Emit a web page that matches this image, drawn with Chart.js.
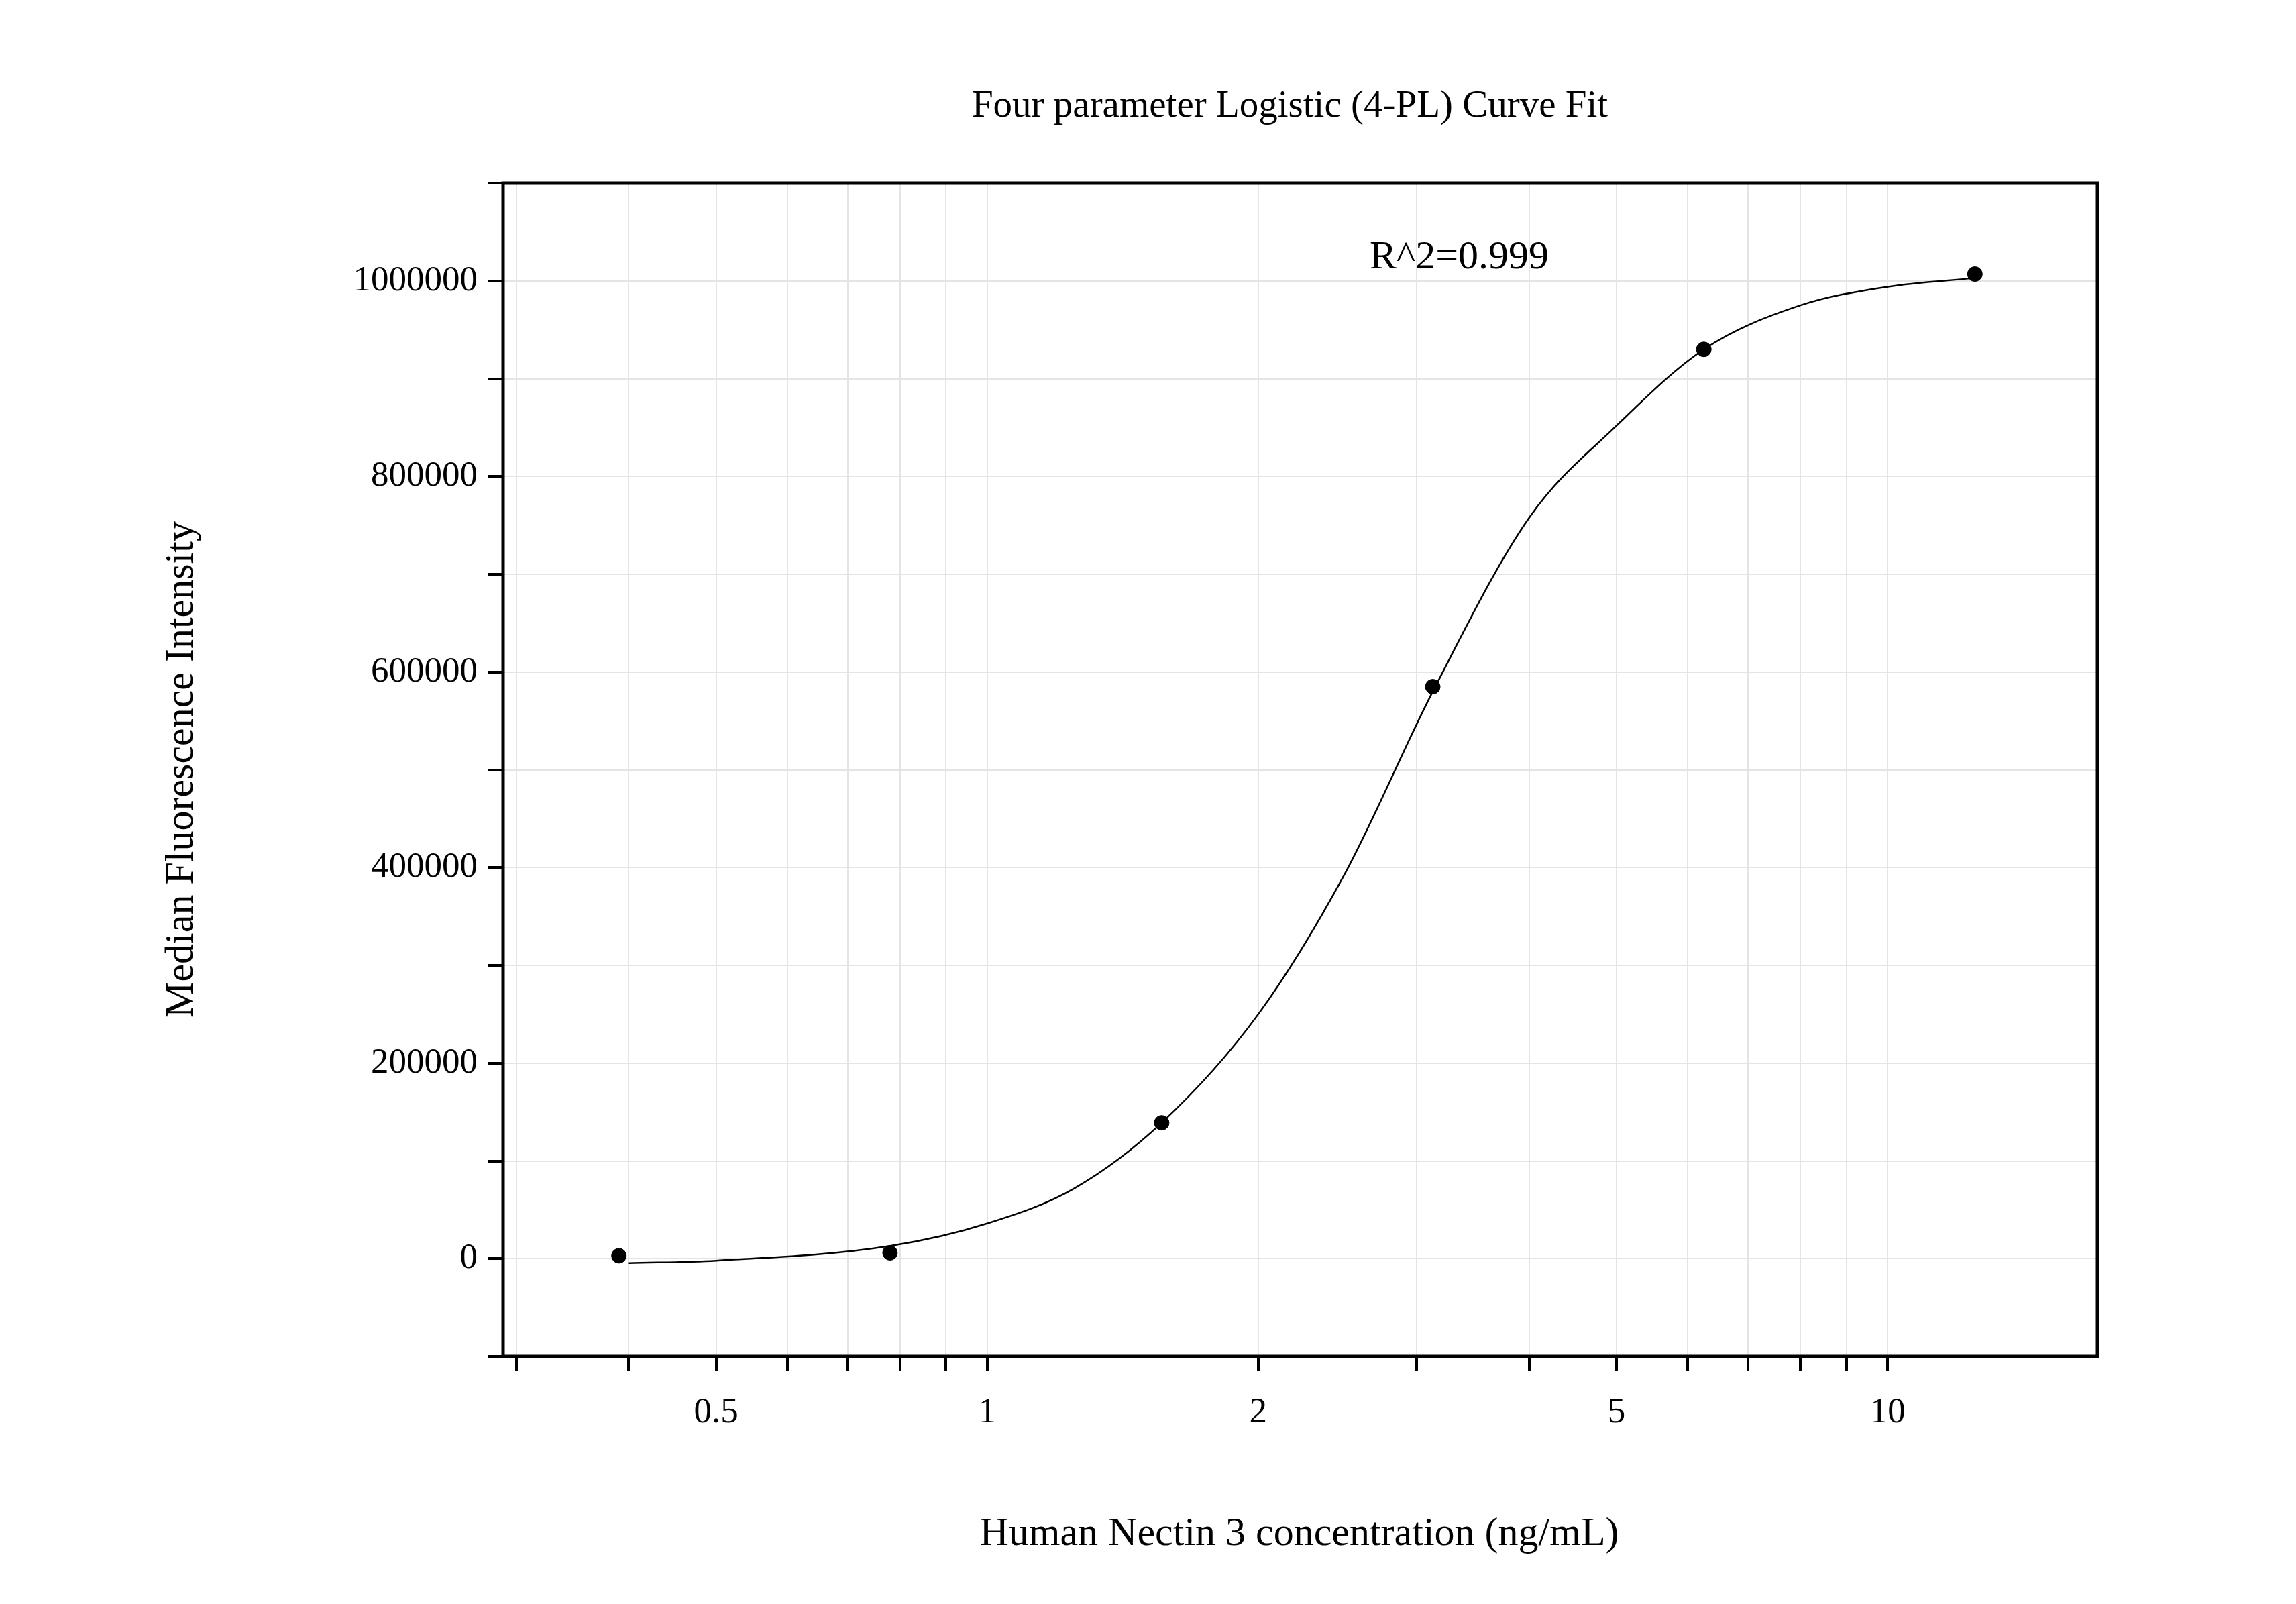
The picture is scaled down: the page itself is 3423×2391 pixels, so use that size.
<!DOCTYPE html>
<html>
<head>
<meta charset="utf-8">
<script src="https://cdn.jsdelivr.net/npm/chart.js@4"></script>
<style>
  html, body { margin: 0; padding: 0; background: #fff; }
  canvas { display: block; }
</style>
</head>
<body>
<canvas id="c" width="3423" height="2391"></canvas>
<script>
// Measured points
const concX = [0.39, 0.78, 1.5625, 3.125, 6.25, 12.5];
const mfiY = [3000, 6000, 139000, 585000, 930000, 1007000];

// Fitted curve
const curveX = [0.4, 0.5, 0.78, 1, 1.25, 1.5625, 2, 2.5, 3.125, 4, 5, 6.25, 8, 10, 12.5];
const curveY = [-4500, -2000, 13000, 36000, 72000, 139000, 250000, 395000, 580000, 758000, 852000, 930000, 975000, 994000, 1003000];

const xTickValues = [0.3, 0.4, 0.5, 0.6, 0.7, 0.8, 0.9, 1, 2, 3, 4, 5, 6, 7, 8, 9, 10];
const xTickLabels = { 0.5: "0.5", 1: "1", 2: "2", 5: "5", 10: "10" };
const yTickValues = [-100000, 0, 100000, 200000, 300000, 400000, 500000, 600000, 700000, 800000, 900000, 1000000, 1100000];

const titleText = "Four parameter Logistic (4-PL) Curve Fit";
const xTitle = "Human Nectin 3 concentration (ng/mL)";
const yTitle = "Median Fluorescence Intensity";
const r2Text = "R^2=0.999";

const FONT = "'Liberation Serif', 'Times New Roman', serif";

const textPlugin = {
  id: "texts",
  afterDraw(chart) {
    const { ctx, chartArea: a } = chart;
    ctx.save();
    ctx.strokeStyle = "#000";
    ctx.lineWidth = 5;
    ctx.strokeRect(a.left, a.top, a.right - a.left, a.bottom - a.top);
    ctx.fillStyle = "#000";
    ctx.textAlign = "center";
    ctx.textBaseline = "middle";
    ctx.font = "57px " + FONT;
    ctx.fillText(titleText, 1923, 159);
    ctx.font = "60px " + FONT;
    ctx.fillText(xTitle, 1937, 2287);
    ctx.textAlign = "left";
    ctx.fillText(r2Text, 2042, 384);
    ctx.translate(271, 1147);
    ctx.rotate(-Math.PI / 2);
    ctx.textAlign = "center";
    ctx.fillText(yTitle, 0, 0);
    ctx.restore();
  }
};

new Chart(document.getElementById("c"), {
  type: "scatter",
  data: {
    datasets: [
      {
        data: concX.map((x, i) => ({ x, y: mfiY[i] })),
        backgroundColor: "#000",
        borderColor: "#000",
        pointRadius: 11,
        order: 1
      },
      {
        type: "line",
        data: curveX.map((x, i) => ({ x, y: curveY[i] })),
        borderColor: "#000",
        borderWidth: 2.5,
        pointRadius: 0,
        cubicInterpolationMode: "monotone",
        fill: false,
        order: 2
      }
    ]
  },
  options: {
    responsive: false,
    devicePixelRatio: 1,
    animation: false,
    layout: { padding: { top: 273, right: 296, left: 0, bottom: 0 } },
    plugins: { legend: { display: false }, tooltip: { enabled: false } },
    scales: {
      x: {
        type: "logarithmic",
        min: 0.29,
        max: 17.1,
        afterBuildTicks: s => { s.ticks = xTickValues.map(v => ({ value: v })); },
        afterFit: s => { s.height = 369; },
        ticks: {
          autoSkip: false,
          maxRotation: 0,
          padding: 30,
          color: "#000",
          font: { family: FONT, size: 53 },
          callback: v => xTickLabels[v] || ""
        },
        grid: { color: "#e4e4e4", lineWidth: 2, tickColor: "#000", tickLength: 22, tickWidth: 4 },
        border: { display: false }
      },
      y: {
        min: -100000,
        max: 1100000,
        afterBuildTicks: s => { s.ticks = yTickValues.map(v => ({ value: v })); },
        afterFit: s => { s.width = 750; },
        ticks: {
          autoSkip: false,
          padding: 16,
          color: "#000",
          font: { family: FONT, size: 53 },
          callback: v => (v >= 0 && v % 200000 === 0) ? String(v) : ""
        },
        grid: { color: "#e4e4e4", lineWidth: 2, tickColor: "#000", tickLength: 22, tickWidth: 4 },
        border: { display: false }
      }
    }
  },
  plugins: [textPlugin]
});
</script>
</body>
</html>
